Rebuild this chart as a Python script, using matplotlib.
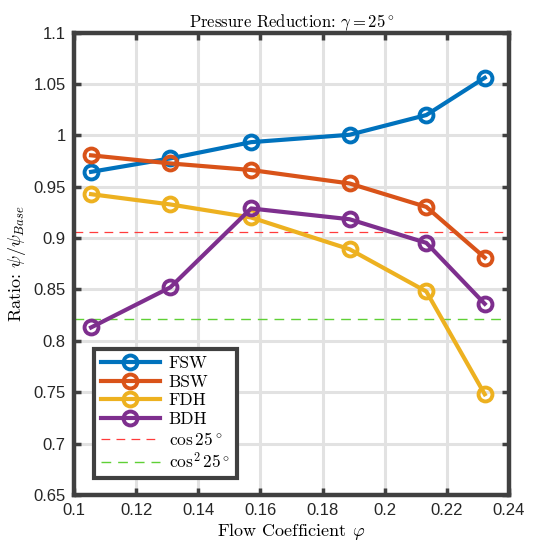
import matplotlib
matplotlib.use("Agg")
import matplotlib.pyplot as plt
import numpy as np

# Flow coefficient operating points
phi = [0.1055, 0.131, 0.157, 0.1887, 0.2134, 0.2322]

# Pressure ratio psi/psi_Base per configuration
fsw = [0.9644, 0.9775, 0.9933, 1.0005, 1.0197, 1.0560]
bsw = [0.9805, 0.9726, 0.9662, 0.9531, 0.9303, 0.8810]
fdh = [0.9427, 0.9327, 0.9200, 0.8891, 0.8480, 0.7480]
bdh = [0.8130, 0.8520, 0.9288, 0.9183, 0.8953, 0.8360]

series_names = ["FSW", "BSW", "FDH", "BDH"]
series_colors = ["#0072BD", "#D95319", "#EDB120", "#7E2F8E"]

gamma_deg = 25
x_ticks = [0.1, 0.12, 0.14, 0.16, 0.18, 0.2, 0.22, 0.24]
x_tick_labels = ["0.1", "0.12", "0.14", "0.16", "0.18", "0.2", "0.22", "0.24"]
y_ticks = [0.65, 0.7, 0.75, 0.8, 0.85, 0.9, 0.95, 1.0, 1.05, 1.1]
y_tick_labels = ["0.65", "0.7", "0.75", "0.8", "0.85", "0.9", "0.95", "1", "1.05", "1.1"]

plt.rcParams["mathtext.fontset"] = "cm"
plt.rcParams["font.family"] = "serif"
plt.rcParams["font.serif"] = ["cmr10", "DejaVu Serif"]
plt.rcParams["axes.unicode_minus"] = False

fig = plt.figure(figsize=(5.36, 5.49), dpi=100)
ax = fig.add_axes([0.138, 0.0984, 0.8116, 0.8424])

axis_color = "#404040"
ax.set_facecolor("white")
ax.grid(True, color="#e2e2e2", linewidth=2.2)
ax.set_axisbelow(True)

for ys, name, col in zip([fsw, bsw, fdh, bdh], series_names, series_colors):
    ax.plot(phi, ys, "-o", color=col, linewidth=3.0, markersize=10,
            markerfacecolor="none", markeredgewidth=2.8, label=name, zorder=3)

cos_g = np.cos(np.deg2rad(gamma_deg))
ax.axhline(cos_g, color="#ff3b3b", linestyle=(0, (7, 5)), linewidth=0.9,
           label=r"$\cos 25^\circ$", zorder=2)
ax.axhline(cos_g ** 2, color="#5fd035", linestyle=(0, (7, 5)), linewidth=1.0,
           label=r"$\cos^2 25^\circ$", zorder=2)

ax.set_xlim(0.1, 0.24)
ax.set_ylim(0.65, 1.1)
ax.set_xticks(x_ticks)
ax.set_xticklabels(x_tick_labels)
ax.set_yticks(y_ticks)
ax.set_yticklabels(y_tick_labels)

for lbl in ax.get_xticklabels() + ax.get_yticklabels():
    lbl.set_fontfamily("Liberation Sans")
    lbl.set_fontsize(12)
    lbl.set_color("#262626")

ax.tick_params(direction="in", length=5, width=2.5, color=axis_color,
               top=True, right=True, pad=6)
for sp in ax.spines.values():
    sp.set_linewidth(3.2)
    sp.set_color(axis_color)

ax.set_title(r"Pressure Reduction: $\gamma = 25^\circ$", fontsize=12, pad=4)
ax.set_xlabel(r"Flow Coefficient $\varphi$", fontsize=13, labelpad=2)
ax.set_ylabel(r"Ratio: $\psi/\psi_{Base}$", fontsize=13, labelpad=4)

leg = ax.legend(loc="lower left", bbox_to_anchor=(0.046, 0.036), fontsize=12.5,
                frameon=True, fancybox=False, borderpad=0.4, handlelength=3.4,
                labelspacing=0.2, handletextpad=0.5, borderaxespad=0)
leg.get_frame().set_edgecolor(axis_color)
leg.get_frame().set_linewidth(3.0)
leg.get_frame().set_alpha(1.0)

fig.savefig("out.png", dpi=100, facecolor="white")
